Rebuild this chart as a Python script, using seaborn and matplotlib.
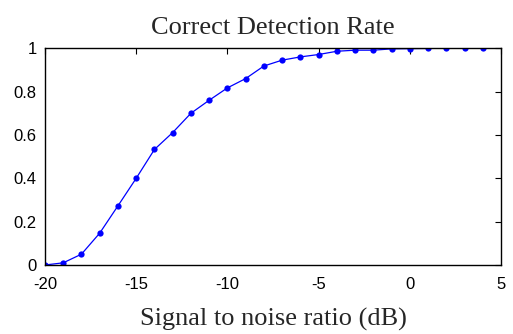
import numpy as np
import pandas as pd
import seaborn as sns
import matplotlib.pyplot as plt

sns.set_theme(style="white")

snr_db = [-20, -19, -18, -17, -16, -15, -14, -13, -12, -11, -10, -9, -8,
          -7, -6, -5, -4, -3, -2, -1, 0, 1, 2, 3, 4]
rate = [0.0, 0.01, 0.05, 0.147, 0.273, 0.40, 0.533, 0.611, 0.70, 0.76, 0.817,
        0.86, 0.918, 0.945, 0.96, 0.971, 0.986, 0.991, 0.991, 0.997, 0.998,
        0.999, 1.0, 1.0, 1.0]
x_ticks = [-20, -15, -10, -5, 0, 5]
y_ticks = [0, 0.2, 0.4, 0.6, 0.8, 1]
y_labels = ["0", "0.2", "0.4", "0.6", "0.8", "1"]

df = pd.DataFrame({"snr": snr_db, "rate": rate})

def main():
    fig = plt.figure(figsize=(5.13, 3.34), dpi=100)
    ax = fig.add_axes([0.0877, 0.2066, 0.889, 0.649])

    sns.lineplot(x="snr", y="rate", data=df, ax=ax, color="#0000ff",
                 linewidth=0.9, marker="o", markersize=4.5,
                 markeredgewidth=0, markerfacecolor="#0000ff")

    ax.set_xlim(-20, 5)
    ax.set_ylim(0, 1)
    ax.set_xticks(x_ticks)
    ax.set_xticklabels([str(t) for t in x_ticks])
    ax.set_yticks(y_ticks)
    ax.set_yticklabels(y_labels)
    ax.tick_params(direction="in", length=4, width=0.8, top=True, right=True,
                   labelsize=12, colors="black")
    ax.tick_params(axis="x", pad=9)
    ax.tick_params(axis="y", pad=6)
    for lab in ax.get_xticklabels() + ax.get_yticklabels():
        lab.set_family("Liberation Sans")
    for s in ax.spines.values():
        s.set_color("black")
        s.set_linewidth(1.0)

    ax.set_title("Correct Detection Rate", family="Liberation Serif",
                 fontsize=19, pad=10)
    ax.set_xlabel("Signal to noise ratio (dB)", family="Liberation Serif",
                  fontsize=19, labelpad=11)
    ax.set_ylabel("")

    plt.savefig("out.png", dpi=100)

if __name__ == '__main__':
    main()
